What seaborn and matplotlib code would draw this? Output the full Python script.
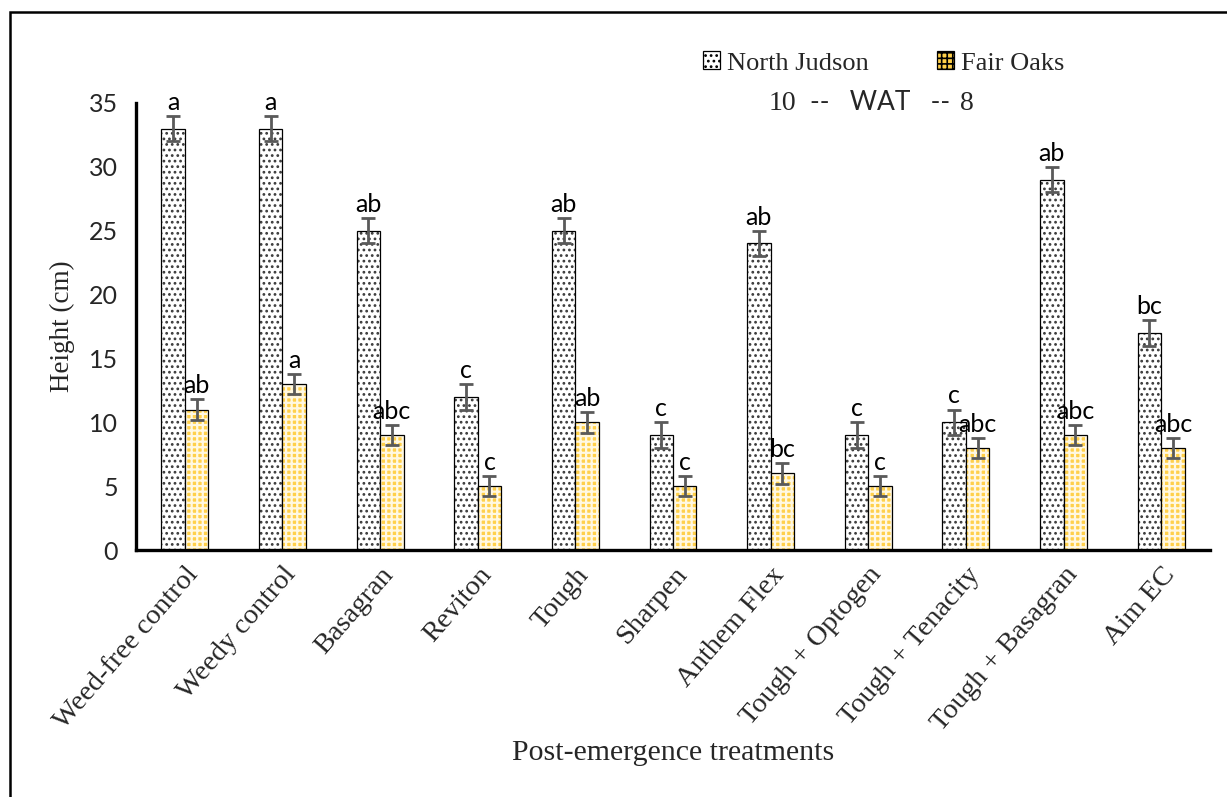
import numpy as np
import pandas as pd
import matplotlib
matplotlib.use("Agg")
import matplotlib.pyplot as plt
import seaborn as sns
from matplotlib.colors import to_rgba
from matplotlib.patches import Rectangle, Patch

# ---------------- data ----------------
treatments = ["Weed-free control", "Weedy control", "Basagran", "Reviton", "Tough",
              "Sharpen", "Anthem Flex", "Tough + Optogen", "Tough + Tenacity",
              "Tough + Basagran", "Aim EC"]
sites = ["North Judson", "Fair Oaks"]
nj_height = [33, 33, 25, 12, 25, 9, 24, 9, 10, 29, 17]
fo_height = [11, 13, 9, 5, 10, 5, 6, 5, 8, 9, 8]
nj_err = [1.0, 1.0, 1.0, 1.0, 1.0, 1.0, 1.0, 1.0, 1.0, 1.0, 1.0]
fo_err = [0.8, 0.8, 0.8, 0.8, 0.8, 0.8, 0.8, 0.8, 0.8, 0.8, 0.8]
nj_letters = ["a", "a", "ab", "c", "ab", "c", "ab", "c", "c", "ab", "bc"]
fo_letters = ["ab", "a", "abc", "c", "ab", "c", "bc", "c", "abc", "abc", "abc"]
y_ticks = [0, 5, 10, 15, 20, 25, 30, 35]
weeks_nj = "10"
weeks_fo = "8"

# ---------------- style ----------------
sns.set_theme(style="white")
plt.rcParams["font.family"] = ["Liberation Serif", "DejaVu Serif"]
plt.rcParams["hatch.linewidth"] = 1.2

W, H = 1227, 797
fig = plt.figure(figsize=(W / 100, H / 100), dpi=100)
ax = fig.add_axes([136 / W, 1 - 550 / H, (1210 - 136) / W, (550 - 103) / H])

df = pd.DataFrame({
    "Treatment": treatments * 2,
    "Site": [sites[0]] * len(treatments) + [sites[1]] * len(treatments),
    "Height": nj_height + fo_height,
    "Err": nj_err + fo_err,
    "Letter": nj_letters + fo_letters,
})

GOLD = "#FFD04A"
sns.barplot(data=df, x="Treatment", y="Height", hue="Site", order=treatments,
            hue_order=sites, palette=["white", GOLD], width=0.48,
            edgecolor="black", linewidth=0.9, errorbar=None, legend=False, ax=ax)

lookup = {(r.Treatment, r.Site): r for r in df.itertuples()}

for p in ax.patches:
    cx = p.get_x() + p.get_width() / 2
    i = int(round(cx))
    s = 0 if cx < i else 1
    row = lookup[(treatments[i], sites[s])]
    if s == 0:
        p.set_hatch("...")
        p.set_edgecolor("black")
        p._hatch_color = to_rgba("#3a3a3a")
    else:
        p.set_facecolor(GOLD)
        p.set_hatch("+++")
        p.set_edgecolor("black")
        p._hatch_color = to_rgba("#FFF8E2")
        if hasattr(p, "set_hatch_linewidth"):
            p.set_hatch_linewidth(1.6)
    h = p.get_height()
    ax.errorbar(cx, h, yerr=row.Err, fmt="none", ecolor="#5a5a5a",
                elinewidth=2.0, capsize=5, capthick=2.0, zorder=5)
    ax.annotate(row.Letter, (cx, h + row.Err), xytext=(0, 1.5),
                textcoords="offset points", ha="center", va="bottom",
                fontfamily="Lato", fontsize=18, color="black")

# ---------------- axes ----------------
ax.set_xlim(-0.5, len(treatments) - 0.5)
ax.set_ylim(0, 35)
ax.set_yticks(y_ticks)
ax.set_yticklabels([str(t) for t in y_ticks], fontfamily="Lato", fontsize=18)
ax.set_xticks(range(len(treatments)))
ax.set_xticklabels(treatments, rotation=49, ha="right", rotation_mode="anchor",
                   fontsize=20.5)
ax.set_xticks(np.arange(-0.5, len(treatments), 1.0), minor=True)
ax.tick_params(axis="x", which="major", length=0, pad=9)
ax.tick_params(axis="x", which="minor", length=7, width=2.2, direction="out", color="black")
ax.tick_params(axis="y", which="major", length=7, width=2.2, direction="out", color="black", pad=6)
for side in ["top", "right"]:
    ax.spines[side].set_visible(False)
for side in ["left", "bottom"]:
    ax.spines[side].set_color("black")
    ax.spines[side].set_linewidth(2.4)
ax.grid(False)

ax.set_xlabel("Post-emergence treatments", fontsize=21.5)
ax.set_ylabel("Height (cm)", fontsize=19.5)
ax.xaxis.set_label_coords(0.5, (550 - 753) / 447)
ax.xaxis.label.set_va("center")
ax.yaxis.set_label_coords((62 - 136) / 1074, 0.5)
ax.yaxis.label.set_va("center")

# ---------------- legend ----------------
handles = [Patch(facecolor="white", edgecolor="black", hatch="...", linewidth=0.9),
           Patch(facecolor=GOLD, edgecolor="black", hatch="+++", linewidth=0.9)]
fig.legend(handles, sites, loc="center left", bbox_to_anchor=(703 / W, 1 - 63 / H),
           ncol=2, frameon=False, fontsize=19, handlelength=0.65, handleheight=0.65,
           handletextpad=0.25, columnspacing=2.6, borderpad=0, borderaxespad=0)

fig.text(782 / W, 1 - 103 / H, weeks_nj, ha="center", va="center", fontsize=20)
fig.text(880 / W, 1 - 103 / H, "--   WAT   --", ha="center", va="center",
         fontfamily="Lato", fontsize=19)
fig.text(967 / W, 1 - 103 / H, weeks_fo, ha="center", va="center", fontsize=20)

# figure frame (top and left visible)
fig.add_artist(Rectangle((10 / W, -0.1), 1.2, 1.1 - 12 / H, transform=fig.transFigure,
                         fill=False, edgecolor="black", linewidth=1.8))

fig.savefig("out.png", dpi=100)
